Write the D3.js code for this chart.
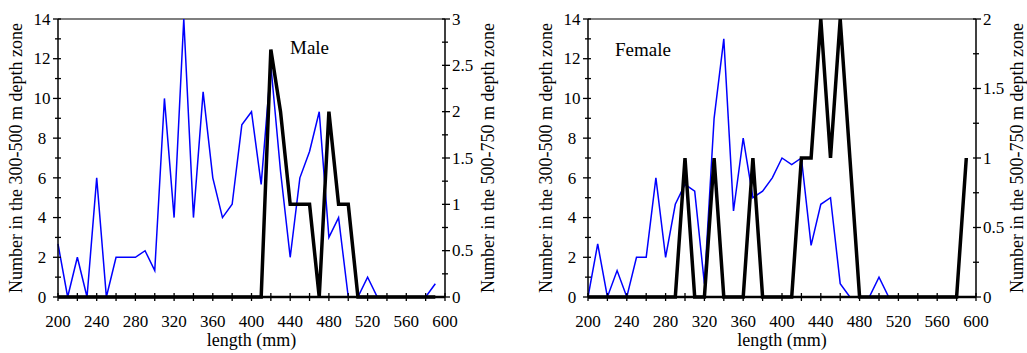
<!DOCTYPE html>
<html>
<head>
<meta charset="utf-8">
<script src="https://cdn.jsdelivr.net/npm/d3@7"></script>
<style>
  body { margin: 0; background: #fff; }
</style>
</head>
<body>
<svg width="1027" height="353" font-family="Liberation Serif, serif"></svg>
<script>
// length classes (mm)
const lengths = [200, 210, 220, 230, 240, 250, 260, 270, 280, 290,
                 300, 310, 320, 330, 340, 350, 360, 370, 380, 390,
                 400, 410, 420, 430, 440, 450, 460, 470, 480, 490,
                 500, 510, 520, 530, 540, 550, 560, 570, 580, 590]

// numbers in the 300-500 m zone (left axis) and 500-750 m zone (right axis)
const maleShallow = [2.67, 0, 2, 0, 6, 0, 2, 2, 2, 2.33,
                     1.33, 10, 4, 14, 4, 10.33, 6, 4, 4.67, 8.67,
                     9.33, 5.67, 11.67, 6.33, 2, 6, 7.33, 9.33, 3, 4,
                     0, 0, 1, 0, 0, 0, 0, 0, 0, 0.67]
const maleDeep = [0, 0, 0, 0, 0, 0, 0, 0, 0, 0,
                  0, 0, 0, 0, 0, 0, 0, 0, 0, 0,
                  0, 0, 2.67, 2, 1, 1, 1, 0, 2, 1,
                  1, 0, 0, 0, 0, 0, 0, 0, 0, 0]
const femaleShallow = [0, 2.67, 0, 1.33, 0, 2, 2, 6, 2, 4.67,
                       5.67, 5.33, 0.67, 9, 13, 4.33, 8, 5, 5.33, 6,
                       7, 6.67, 7, 2.6, 4.67, 5, 0.67, 0, 0, 0,
                       1, 0, 0, 0, 0, 0, 0, 0, 0, 0]
const femaleDeep = [0, 0, 0, 0, 0, 0, 0, 0, 0, 0,
                    1, 0, 0, 1, 0, 0, 0, 1, 0, 0,
                    0, 0, 1, 1, 2, 1, 2, 1, 0, 0,
                    0, 0, 0, 0, 0, 0, 0, 0, 0, 1]

const xTicks = [200, 240, 280, 320, 360, 400, 440, 480, 520, 560, 600]
const leftTicks = [0, 2, 4, 6, 8, 10, 12, 14]
const maleRightTicks = [0, 0.5, 1, 1.5, 2, 2.5, 3]
const femaleRightTicks = [0, 0.5, 1, 1.5, 2]

const svg = d3.select('svg')
const FONT = 'Liberation Serif, serif'

const panels = [
    { label: 'Male', x0: 58, x1: 445, shallow: maleShallow, deep: maleDeep,
      rightMax: 3, rightTicks: maleRightTicks, labelX: 290, labelY: 54, rightTitleX: 494 },
    { label: 'Female', x0: 588, x1: 976, shallow: femaleShallow, deep: femaleDeep,
      rightMax: 2, rightTicks: femaleRightTicks, labelX: 615, labelY: 56, rightTitleX: 1023 }
]

panels.forEach(p => drawPanel(p))

function addText(sel) {
    return sel.append('text').attr('font-family', FONT).attr('fill', '#000')
}

function drawPanel(p) {
    const top = 19, bottom = 297
    const x = d3.scaleLinear().domain([200, 600]).range([p.x0, p.x1])
    const yL = d3.scaleLinear().domain([0, 14]).range([bottom, top])
    const yR = d3.scaleLinear().domain([0, p.rightMax]).range([bottom, top])
    const g = svg.append('g')

    // top frame line
    g.append('line')
        .attr('x1', p.x0).attr('x2', p.x1)
        .attr('y1', top).attr('y2', top)
        .attr('stroke', '#000').attr('stroke-width', 1.2)

    // data lines
    const lineL = d3.line().x((d, i) => x(lengths[i])).y(d => yL(d))
    const lineR = d3.line().x((d, i) => x(lengths[i])).y(d => yR(d))
    g.append('path')
        .attr('d', lineL(p.shallow))
        .attr('fill', 'none')
        .attr('stroke', '#0000ff')
        .attr('stroke-width', 1.5)
    g.append('path')
        .attr('d', lineR(p.deep))
        .attr('fill', 'none')
        .attr('stroke', '#000')
        .attr('stroke-width', 3.5)

    // left axis
    const left = g.append('g').attr('transform', `translate(${p.x0},0)`)
    left.append('line').attr('y1', top).attr('y2', bottom).attr('stroke', '#000').attr('stroke-width', 1.5)
    d3.range(0, 15, 1).forEach(v => {
        left.append('line')
            .attr('x1', v % 2 ? -3 : -5).attr('x2', 3)
            .attr('y1', yL(v)).attr('y2', yL(v))
            .attr('stroke', '#000').attr('stroke-width', 1.3)
    })
    leftTicks.forEach(d => {
        addText(left)
            .attr('x', -16).attr('y', yL(d))
            .attr('dy', '0.34em')
            .attr('text-anchor', 'middle')
            .attr('font-size', 17)
            .text(d)
    })

    // right axis
    const right = g.append('g').attr('transform', `translate(${p.x1},0)`)
    right.append('line').attr('y1', top).attr('y2', bottom).attr('stroke', '#000').attr('stroke-width', 1.5)
    d3.range(0, p.rightMax + 0.01, 0.25).forEach(v => {
        right.append('line')
            .attr('x1', -3).attr('x2', (v * 4) % 2 ? 3 : 5)
            .attr('y1', yR(v)).attr('y2', yR(v))
            .attr('stroke', '#000').attr('stroke-width', 1.3)
    })
    p.rightTicks.forEach(d => {
        addText(right)
            .attr('x', 7).attr('y', yR(d))
            .attr('dy', '0.34em')
            .attr('font-size', 17)
            .text(d)
    })

    // bottom axis
    const bot = g.append('g').attr('transform', `translate(0,${bottom})`)
    bot.append('line').attr('x1', p.x0).attr('x2', p.x1).attr('stroke', '#000').attr('stroke-width', 2.5)
    d3.range(200, 601, 20).forEach(v => {
        bot.append('line')
            .attr('x1', x(v)).attr('x2', x(v))
            .attr('y1', -4).attr('y2', 4)
            .attr('stroke', '#000').attr('stroke-width', 1.3)
    })
    xTicks.forEach(d => {
        addText(bot)
            .attr('x', x(d)).attr('y', 30)
            .attr('text-anchor', 'middle')
            .attr('font-size', 17)
            .text(d)
    })

    // titles
    addText(g)
        .attr('x', (p.x0 + p.x1) / 2).attr('y', 346)
        .attr('text-anchor', 'middle')
        .attr('font-size', 18)
        .text('length (mm)')
    addText(g)
        .attr('transform', `translate(${p.x0 - 36},${(top + bottom) / 2}) rotate(-90)`)
        .attr('text-anchor', 'middle')
        .attr('font-size', 18)
        .text('Number in the 300-500 m depth zone')
    addText(g)
        .attr('transform', `translate(${p.rightTitleX},${(top + bottom) / 2}) rotate(-90)`)
        .attr('text-anchor', 'middle')
        .attr('font-size', 18)
        .text('Number in the 500-750 m depth zone')

    addText(g)
        .attr('x', p.labelX).attr('y', p.labelY)
        .attr('font-size', 19)
        .text(p.label)
}
</script>
</body>
</html>
